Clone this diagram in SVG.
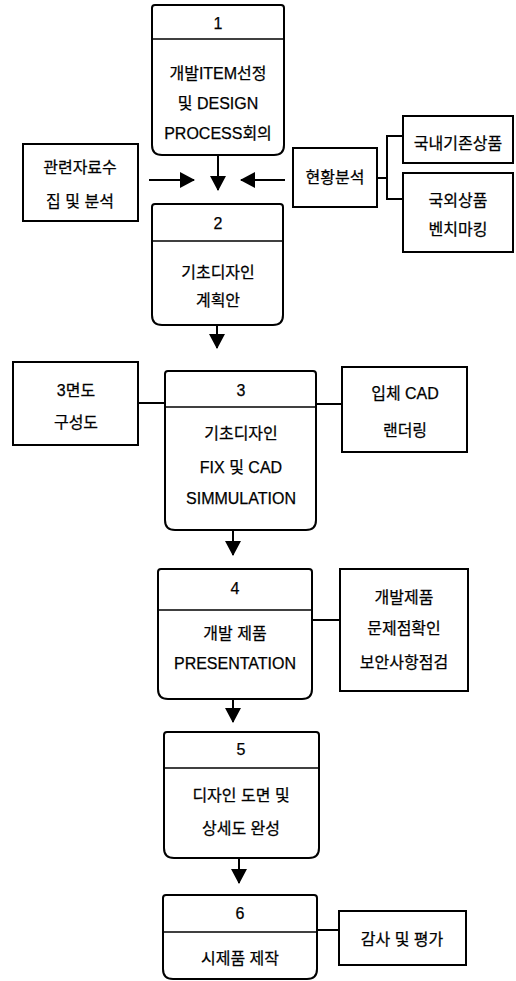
<svg xmlns="http://www.w3.org/2000/svg" width="516" height="981" viewBox="0 0 516 981">
<style>
.b{fill:#fff;stroke:#000;stroke-width:2}
.d{stroke:#000;stroke-width:1.6;fill:none}
.l{stroke:#000;stroke-width:2;fill:none}
text{font-family:"Liberation Sans","Noto Sans CJK KR",sans-serif;font-size:16px;fill:#000;stroke:#000;stroke-width:0.25;text-anchor:middle;dominant-baseline:central}
</style>
<defs>
<marker id="ah" markerUnits="userSpaceOnUse" markerWidth="16" markerHeight="16" viewBox="0 0 16 16" refX="14" refY="8" orient="auto">
<path d="M0,0 L15,8 L0,16 Z" fill="#000"/>
</marker>
</defs>
<rect width="516" height="981" fill="#fff"/>
<g id="connectors">
<line class="l" x1="218" y1="155" x2="218" y2="190" marker-end="url(#ah)"/>
<line class="l" x1="149" y1="180" x2="194" y2="180" marker-end="url(#ah)"/>
<line class="l" x1="285" y1="180" x2="241" y2="180" marker-end="url(#ah)"/>
<path class="l" d="M377,178 H387 M403,136 H387 V199 H403"/>
<line class="l" x1="217" y1="325" x2="217" y2="348" marker-end="url(#ah)"/>
<line class="l" x1="138" y1="403" x2="165" y2="403"/>
<line class="l" x1="316" y1="404" x2="342" y2="404"/>
<line class="l" x1="233" y1="530" x2="233" y2="555" marker-end="url(#ah)"/>
<line class="l" x1="312" y1="620" x2="340" y2="620"/>
<line class="l" x1="233" y1="699" x2="233" y2="722" marker-end="url(#ah)"/>
<line class="l" x1="239" y1="858" x2="239" y2="883" marker-end="url(#ah)"/>
<line class="l" x1="317" y1="930" x2="339" y2="930"/>
</g>
<g id="n1">
<path class="b" d="M155,5 H281 Q284,5 284,8 V145 Q284,155 274,155 H162 Q152,155 152,145 V8 Q152,5 155,5 Z"/>
<line class="d" x1="152" y1="39" x2="284" y2="39"/>
<text x="218" y="23">1</text>
<text x="218" y="73">개발ITEM선정</text>
<text x="218" y="103">및 DESIGN</text>
<text x="218" y="133">PROCESS회의</text>
</g>
<g id="n_data">
<rect class="b" x="23" y="144" width="115" height="77"/>
<text x="80" y="167">관련자료수</text>
<text x="80" y="201">집 및 분석</text>
</g>
<g id="n_status">
<rect class="b" x="293" y="148" width="84" height="59"/>
<text x="335" y="177">현황분석</text>
</g>
<g id="n_domestic">
<rect class="b" x="403" y="116" width="110" height="47"/>
<text x="458" y="143">국내기존상품</text>
</g>
<g id="n_foreign">
<rect class="b" x="403" y="173" width="110" height="79"/>
<text x="458" y="200">국외상품</text>
<text x="458" y="229">벤치마킹</text>
</g>
<g id="n2">
<path class="b" d="M155,204 H280 Q283,204 283,207 V315 Q283,325 273,325 H162 Q152,325 152,315 V207 Q152,204 155,204 Z"/>
<line class="d" x1="152" y1="241" x2="283" y2="241"/>
<text x="218" y="223">2</text>
<text x="218" y="272">기초디자인</text>
<text x="218" y="300">계획안</text>
</g>
<g id="n_3view">
<rect class="b" x="13" y="362" width="125" height="83"/>
<text x="76" y="390">3면도</text>
<text x="76" y="422">구성도</text>
</g>
<g id="n3">
<path class="b" d="M168,371 H313 Q316,371 316,374 V520 Q316,530 306,530 H175 Q165,530 165,520 V374 Q165,371 168,371 Z"/>
<line class="d" x1="165" y1="407" x2="316" y2="407"/>
<text x="241" y="390">3</text>
<text x="241" y="433">기초디자인</text>
<text x="241" y="467">FIX 및 CAD</text>
<text x="241" y="498">SIMMULATION</text>
</g>
<g id="n_cad">
<rect class="b" x="342" y="367" width="125" height="85"/>
<text x="405" y="393">입체 CAD</text>
<text x="405" y="430">랜더링</text>
</g>
<g id="n4">
<path class="b" d="M161,569 H309 Q312,569 312,572 V689 Q312,699 302,699 H168 Q158,699 158,689 V572 Q158,569 161,569 Z"/>
<line class="d" x1="158" y1="610" x2="312" y2="610"/>
<text x="235" y="588">4</text>
<text x="235" y="633">개발 제품</text>
<text x="235" y="663">PRESENTATION</text>
</g>
<g id="n_check">
<rect class="b" x="340" y="569" width="128" height="122"/>
<text x="404" y="597">개발제품</text>
<text x="404" y="628">문제점확인</text>
<text x="404" y="662">보안사항점검</text>
</g>
<g id="n5">
<path class="b" d="M167,732 H316 Q319,732 319,735 V848 Q319,858 309,858 H174 Q164,858 164,848 V735 Q164,732 167,732 Z"/>
<line class="d" x1="164" y1="768" x2="319" y2="768"/>
<text x="241" y="749">5</text>
<text x="241" y="795">디자인 도면 및</text>
<text x="241" y="828">상세도 완성</text>
</g>
<g id="n6">
<path class="b" d="M166,895 H314 Q317,895 317,898 V969 Q317,979 307,979 H173 Q163,979 163,969 V898 Q163,895 166,895 Z"/>
<line class="d" x1="163" y1="932" x2="317" y2="932"/>
<text x="240" y="913">6</text>
<text x="240" y="958">시제품 제작</text>
</g>
<g id="n_eval">
<rect class="b" x="339" y="911" width="127" height="54"/>
<text x="402" y="939">감사 및 평가</text>
</g>
</svg>
